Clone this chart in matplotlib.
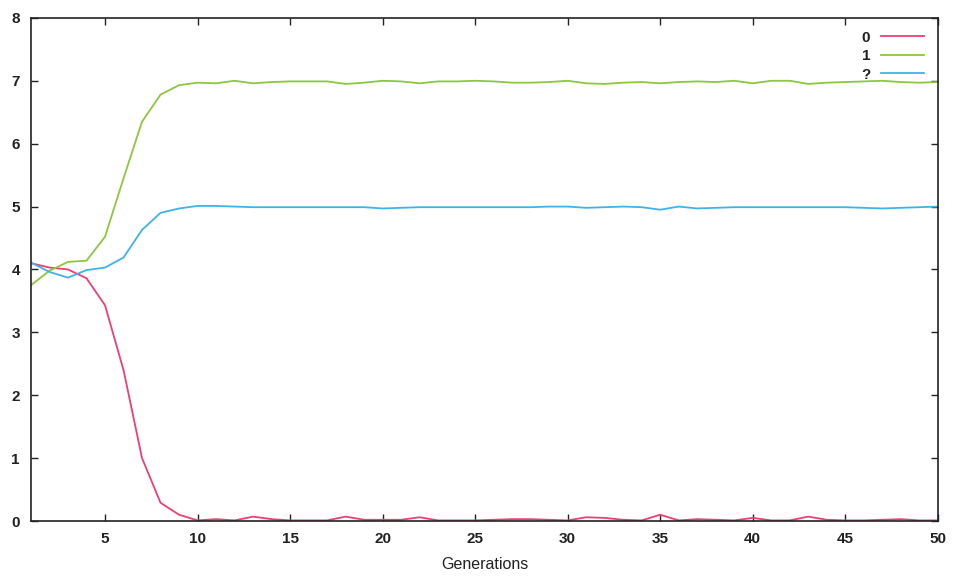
import matplotlib
matplotlib.use("Agg")
import matplotlib.pyplot as plt
import numpy as np

generations = list(range(1, 51))

series_0 = [4.10, 4.03, 4.00, 3.86, 3.43, 2.40, 1.00, 0.29, 0.10, 0.01,
            0.03, 0.01, 0.07, 0.03, 0.01, 0.01, 0.01, 0.07, 0.02, 0.02,
            0.02, 0.06, 0.01, 0.01, 0.01, 0.02, 0.03, 0.03, 0.02, 0.01,
            0.06, 0.05, 0.02, 0.01, 0.10, 0.01, 0.03, 0.02, 0.01, 0.05,
            0.01, 0.01, 0.07, 0.02, 0.01, 0.01, 0.02, 0.03, 0.01, 0.01]

series_1 = [3.75, 3.98, 4.12, 4.14, 4.52, 5.45, 6.35, 6.78, 6.93, 6.97,
            6.96, 7.00, 6.96, 6.98, 6.99, 6.99, 6.99, 6.95, 6.97, 7.00,
            6.99, 6.96, 6.99, 6.99, 7.00, 6.99, 6.97, 6.97, 6.98, 7.00,
            6.96, 6.95, 6.97, 6.98, 6.96, 6.98, 6.99, 6.98, 7.00, 6.96,
            7.00, 7.00, 6.95, 6.97, 6.98, 6.99, 7.00, 6.98, 6.97, 6.98]

series_q = [4.11, 3.96, 3.87, 3.99, 4.03, 4.19, 4.63, 4.90, 4.97, 5.01,
            5.01, 5.00, 4.99, 4.99, 4.99, 4.99, 4.99, 4.99, 4.99, 4.97,
            4.98, 4.99, 4.99, 4.99, 4.99, 4.99, 4.99, 4.99, 5.00, 5.00,
            4.98, 4.99, 5.00, 4.99, 4.95, 5.00, 4.97, 4.98, 4.99, 4.99,
            4.99, 4.99, 4.99, 4.99, 4.99, 4.98, 4.97, 4.98, 4.99, 5.00]

labels = ["0", "1", "?"]
colors = ["#ec3f72", "#8dc63f", "#3cb4e9"]

x_ticks = [5, 10, 15, 20, 25, 30, 35, 40, 45, 50]
y_ticks = [0, 1, 2, 3, 4, 5, 6, 7, 8]

plt.rcParams['font.family'] = ['Liberation Sans', 'DejaVu Sans']

fig = plt.figure(figsize=(9.54, 5.77), dpi=100)
ax = fig.add_axes([0.0325, 0.097, 0.9505, 0.872])

for ys, lab, c in zip([series_0, series_1, series_q], labels, colors):
    ax.plot(generations, ys, color=c, lw=1.3, label=lab)

ax.set_xlim(1, 50)
ax.set_ylim(0, 8)
ax.set_xticks(x_ticks)
ax.set_yticks(y_ticks)
ax.tick_params(direction='in', top=True, right=True, length=5, width=1,
               labelsize=11, colors='#222222')
ax.tick_params(axis='x', pad=8)
ax.tick_params(axis='y', pad=8)
for lab in ax.get_xticklabels() + ax.get_yticklabels():
    lab.set_fontweight('bold')
for sp in ax.spines.values():
    sp.set_linewidth(1.2)
    sp.set_color('#222222')

ax.set_xlabel("Generations", fontsize=11.5, labelpad=8, color='#222222')

leg = ax.legend(loc='upper right', frameon=False, markerfirst=False,
                fontsize=11, handlelength=2.8, labelspacing=0.3,
                borderaxespad=0.7, handletextpad=0.7,
                bbox_to_anchor=(1.003, 1.008))
for t in leg.get_texts():
    t.set_fontweight('bold')
    t.set_color('#222222')

fig.savefig("out.png", dpi=100)
